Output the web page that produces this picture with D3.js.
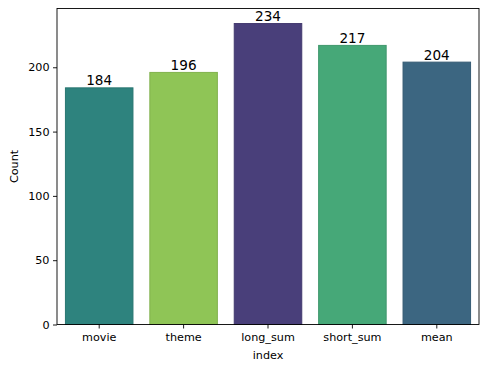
<!DOCTYPE html>
<html>
<head>
<meta charset="utf-8">
<script src="https://cdn.jsdelivr.net/npm/d3@7"></script>
<style>
  body { margin: 0; background: #fff; }
  text { font-family: "DejaVu Sans", sans-serif; fill: #000; }
</style>
</head>
<body>
<script>
var categories = ["movie", "theme", "long_sum", "short_sum", "mean"];
var counts = [184, 196, 234, 217, 204];
var colors = ["#2e837e", "#8fc556", "#493f7a", "#46a878", "#3c6681"];
var yTicks = [0, 50, 100, 150, 200];

var W = 489, H = 371;
var margin = {left: 57, right: 10, top: 8.5, bottom: 46.5};

var svg = d3.select("body").append("svg").attr("width", W).attr("height", H);

var x = d3.scaleBand().domain(categories)
  .range([margin.left, W - margin.right]).paddingInner(0.2).paddingOuter(0.1);
var y = d3.scaleLinear().domain([0, d3.max(counts) * 1.05])
  .range([H - margin.bottom, margin.top]);

// bars
svg.selectAll("rect.bar").data(categories).enter().append("rect")
  .attr("class", "bar")
  .attr("x", function(d){ return x(d); })
  .attr("y", function(d, i){ return y(counts[i]); })
  .attr("width", x.bandwidth())
  .attr("height", function(d, i){ return y(0) - y(counts[i]); })
  .attr("fill", function(d, i){ return colors[i]; })
  .attr("stroke", function(d, i){ return d3.color(colors[i]).darker(0.3); })
  .attr("stroke-width", 1);

// value labels
svg.selectAll("text.val").data(categories).enter().append("text")
  .attr("class", "val")
  .attr("x", function(d){ return x(d) + x.bandwidth() / 2; })
  .attr("y", function(d, i){ return y(counts[i]) - 2.5; })
  .attr("text-anchor", "middle")
  .style("font-size", "13.6px")
  .text(function(d, i){ return counts[i]; });

// axes
var yAxis = d3.axisLeft(y).tickValues(yTicks).tickSize(4).tickPadding(3.5);
var gy = svg.append("g").attr("transform", "translate(" + margin.left + ",0)").call(yAxis);
var xAxis = d3.axisBottom(x).tickSize(4).tickPadding(4.5);
var gx = svg.append("g").attr("transform", "translate(0," + (H - margin.bottom) + ")").call(xAxis);
[gx, gy].forEach(function(g){
  g.select(".domain").remove();
  g.selectAll("line").attr("stroke", "#000").attr("stroke-width", 0.9);
  g.selectAll("text").style("font-size", "11.2px").style("font-family", "DejaVu Sans");
});

// frame
svg.append("rect")
  .attr("x", margin.left).attr("y", margin.top)
  .attr("width", W - margin.right - margin.left)
  .attr("height", H - margin.bottom - margin.top)
  .attr("fill", "none").attr("stroke", "#000").attr("stroke-width", 0.9);

// axis titles
svg.append("text")
  .attr("x", (margin.left + W - margin.right) / 2).attr("y", 359)
  .attr("text-anchor", "middle").style("font-size", "11.2px").text("index");
svg.append("text")
  .attr("transform", "translate(18," + ((margin.top + H - margin.bottom) / 2) + ") rotate(-90)")
  .attr("text-anchor", "middle").style("font-size", "11.2px").text("Count");
</script>
</body>
</html>
